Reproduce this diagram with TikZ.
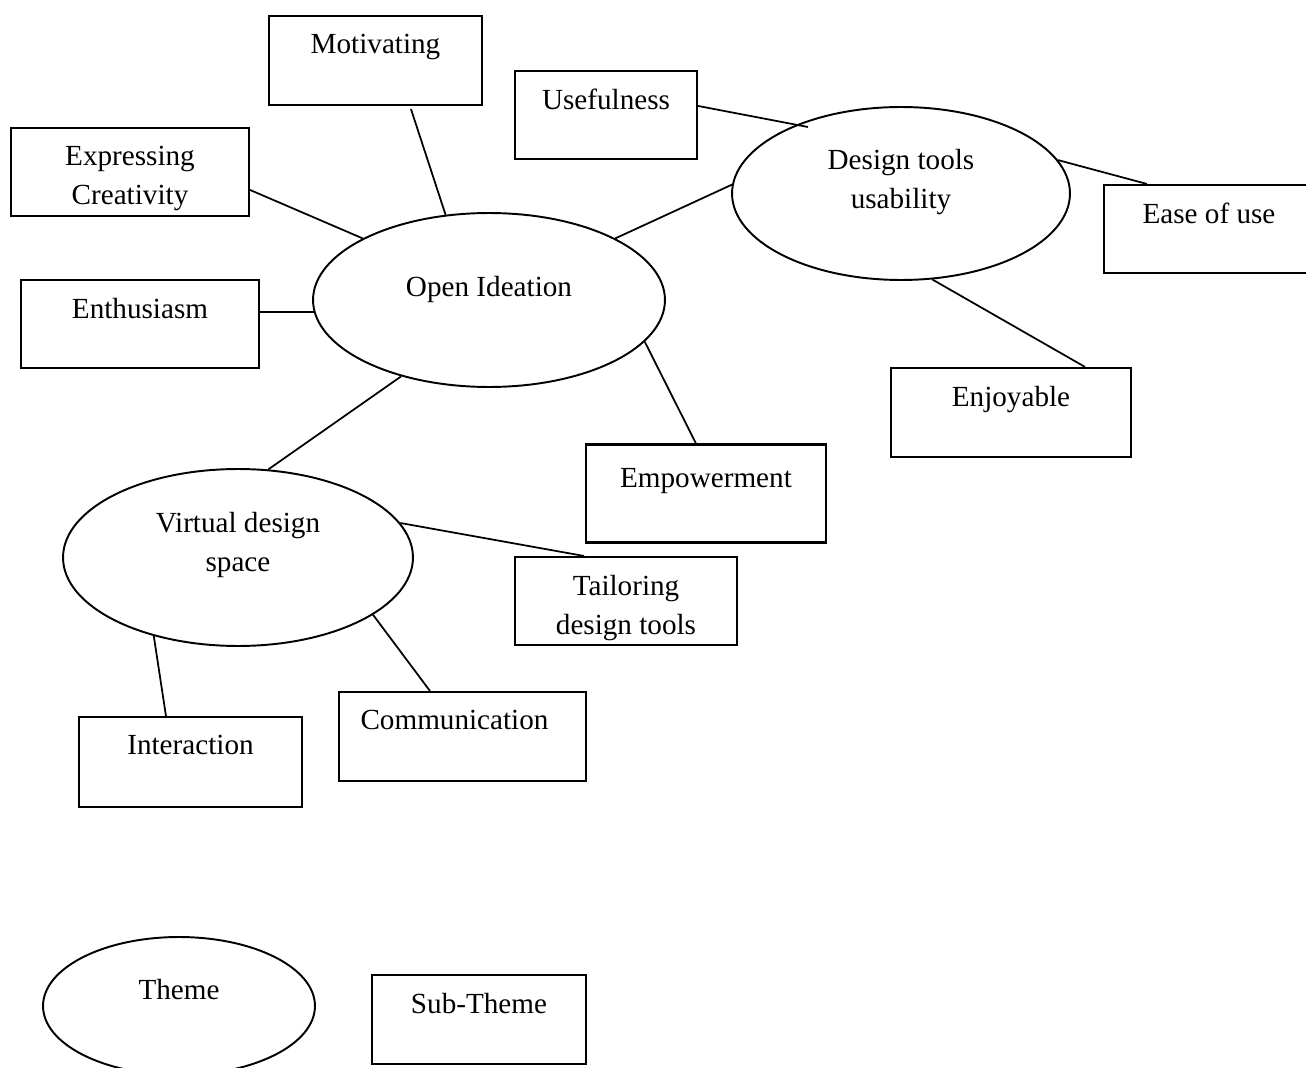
\documentclass[tikz,border=0pt]{standalone}
\usepackage{fontspec}
\setmainfont{Liberation Serif}
\usetikzlibrary{shapes.geometric, calc}

\begin{document}
\begin{tikzpicture}[x=0.02cm, y=-0.02cm,
    font=\fontsize{16.6}{22.2}\selectfont,
    sub/.style={rectangle, draw=black, line width=1.2pt, minimum height=1.76cm, inner sep=0pt},
    theme/.style={ellipse, draw=black, line width=1.1pt, inner sep=0pt},
    subtext/.style={anchor=north, yshift=-0.37cm, inner sep=0pt, align=center},
    themetext/.style={anchor=north, inner sep=0pt, align=center},
    link/.style={line width=1pt}]
    \useasboundingbox (0,0) rectangle (1306,1068);

    %Themes
    \node[theme, minimum width=7.04cm, minimum height=3.48cm, label={[themetext, yshift=-1.27cm]90:Open Ideation}] at (489, 300) (open) {};
    \node[theme, minimum width=6.76cm, minimum height=3.46cm, label={[themetext, yshift=-0.85cm]90:Design tools\\usability}] at (901, 193.5) (design) {};
    \node[theme, minimum width=7.0cm, minimum height=3.54cm, label={[themetext, yshift=-0.87cm]90:Virtual design\\space}] at (238, 557.5) (virtual) {};

    %Sub-themes
    \node[sub, minimum width=4.26cm, minimum height=1.78cm, label={[subtext]90:Motivating}] at (375.5, 60.5) (motiv) {};
    \node[sub, minimum width=3.64cm, label={[subtext]90:Usefulness}] at (606, 115) (useful) {};
    \node[sub, minimum width=4.76cm, label={[subtext]90:Expressing\\Creativity}] at (130, 172) (express) {};
    \node[sub, minimum width=4.2cm, label={[subtext]90:Ease of use}] at (1209, 229) (ease) {};
    \node[sub, minimum width=4.76cm, label={[subtext]90:Enthusiasm}] at (140, 324) (enthus) {};
    \node[sub, minimum width=4.8cm, minimum height=1.78cm, label={[subtext]90:Enjoyable}] at (1011, 412.5) (enjoy) {};
    \node[sub, minimum width=4.8cm, minimum height=1.96cm, label={[subtext, yshift=-0.12cm]90:Empowerment}] at (706, 493.5) (empow) {};
    \node[sub, minimum width=4.44cm, label={[subtext]90:Tailoring\\design tools}] at (626, 601) (tailor) {};
    \node[sub, minimum width=4.94cm, minimum height=1.78cm, label={[subtext, xshift=-0.16cm]90:Communication}] at (462.5, 736.5) (commun) {};
    \node[sub, minimum width=4.46cm, minimum height=1.8cm, label={[subtext]90:Interaction}] at (190.5, 762) (interact) {};

    %Key
    \node[theme, minimum width=5.44cm, minimum height=2.76cm, label={[themetext, yshift=-0.85cm]90:Theme}] at (179, 1006) (key1) {};
    \node[sub, minimum width=4.28cm, minimum height=1.78cm, label={[subtext]90:Sub-Theme}] at (479, 1019.5) (key2) {};

    %Lines
    \coordinate (useend) at (808, 127);
    \draw[link] ($(motiv.south west)+(143,3)$) -- (open.117);
    \draw[link] ($(express.north east)+(0,63)$) -- (open.154);
    \draw[link] (open.184) -- (open.184 -| enthus.east);
    \draw[link] (open.26) -- (design.177);
    \draw[link] ($(useful.north east)+(0,36)$) -- (useend);
    \draw[link] (design.12) -- ($(ease.north west)+(44,0)$);
    \draw[link] (design.-70) -- ($(enjoy.north east)+(-47,0)$);
    \draw[link] (open.-15) -- ($(empow.north west)+(111,0)$);
    \draw[link] (open.221) -- (virtual.71);
    \draw[link] (virtual.12.5) -- ($(tailor.north west)+(70,0)$);
    \draw[link] (virtual.-23) -- ($(commun.north west)+(92,0)$);
    \draw[link] (virtual.223) -- ($(interact.north west)+(88,0)$);

\end{tikzpicture}
\end{document}
